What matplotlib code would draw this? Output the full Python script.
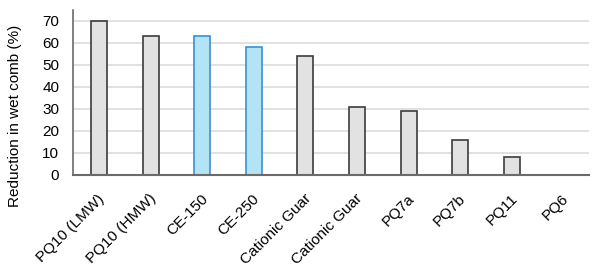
import matplotlib
matplotlib.use('Agg')
from matplotlib import pyplot as plt
from matplotlib.transforms import ScaledTranslation
import numpy as np

# data
categories = ['PQ10 (LMW)', 'PQ10 (HMW)', 'CE-150', 'CE-250', 'Cationic Guar',
              'Cationic Guar', 'PQ7a', 'PQ7b', 'PQ11', 'PQ6']
values = [70, 63, 63, 58, 54, 31, 29, 16, 8, 0]
highlight = [False, False, True, True, False, False, False, False, False, False]

plt.rcParams['font.family'] = ['Liberation Sans', 'DejaVu Sans']

fig = plt.figure(figsize=(6, 2.67), dpi=100)
ax = fig.add_axes([0.122, 0.345, 0.86, 0.618])

x = np.arange(len(categories))
face = ['#b3e4f6' if h else '#e2e2e2' for h in highlight]
edge = ['#3b8fd5' if h else '#3c3c3c' for h in highlight]
ax.bar(x, values, width=0.31, color=face, edgecolor=edge, linewidth=1.2, zorder=3)

ax.set_xlim(-0.5, len(categories) - 0.5)
ax.set_ylim(0, 75)
ax.set_yticks(range(0, 80, 10))
ax.yaxis.grid(True, color='#dcdcdc', linewidth=1.2, zorder=0)
ax.set_xticks(x)
ax.set_xticklabels(categories, rotation=45, ha='right', fontsize=11)
ax.tick_params(axis='y', labelsize=11, length=0, pad=10)
ax.tick_params(axis='x', length=0, pad=12)
# nudge the rotated labels to the right a little
shift = ScaledTranslation(6 / 72, 0, fig.dpi_scale_trans)
for lab in ax.get_xticklabels():
    lab.set_transform(lab.get_transform() + shift)

for s in ['top', 'right']:
    ax.spines[s].set_visible(False)
ax.spines['left'].set_color('#6b6b6b')
ax.spines['bottom'].set_color('#6b6b6b')
ax.spines['left'].set_linewidth(1.2)
ax.spines['bottom'].set_linewidth(1.5)
ax.spines['left'].set_zorder(4)
ax.spines['bottom'].set_zorder(4)

ax.set_ylabel('Reduction in wet comb (%)', fontsize=11, labelpad=12)
ax.yaxis.set_label_coords(-0.1, 0.36)

fig.savefig('out.png', dpi=100)
